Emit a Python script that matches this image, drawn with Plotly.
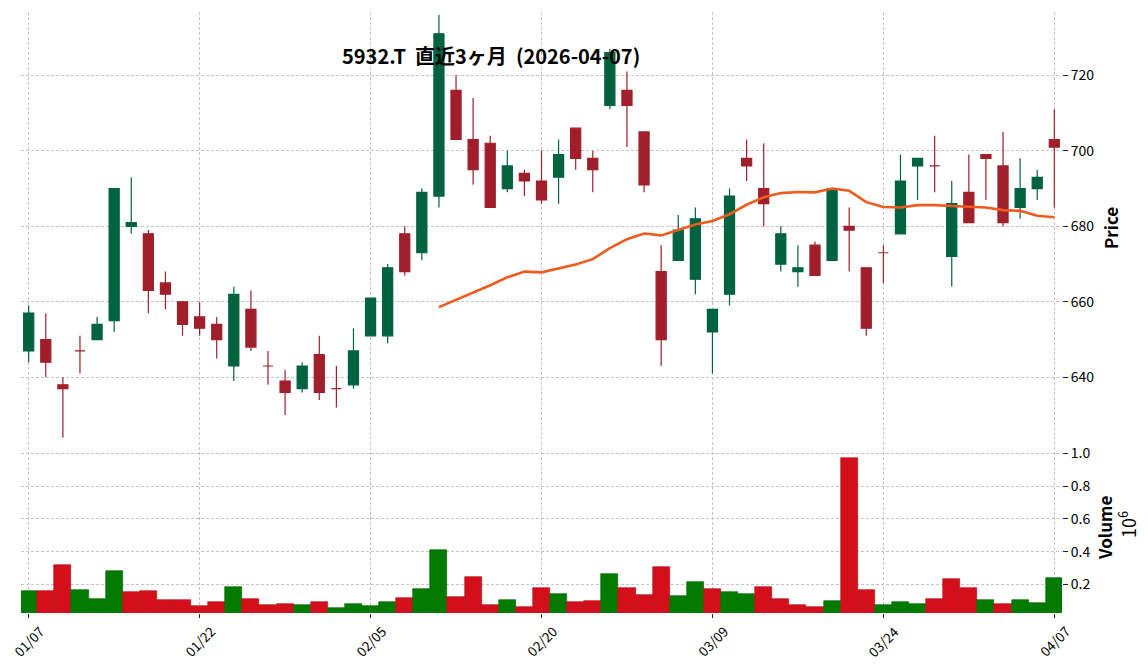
import plotly.graph_objects as go

# ---------------- data ----------------
dates = ["2026-01-07", "2026-01-08", "2026-01-09", "2026-01-13", "2026-01-14", "2026-01-15", "2026-01-16",
         "2026-01-19", "2026-01-20", "2026-01-21", "2026-01-22", "2026-01-23", "2026-01-26", "2026-01-27",
         "2026-01-28", "2026-01-29", "2026-01-30", "2026-02-02", "2026-02-03", "2026-02-04", "2026-02-05",
         "2026-02-06", "2026-02-09", "2026-02-10", "2026-02-12", "2026-02-13", "2026-02-16", "2026-02-17",
         "2026-02-18", "2026-02-19", "2026-02-20", "2026-02-24", "2026-02-25", "2026-02-26", "2026-02-27",
         "2026-03-02", "2026-03-03", "2026-03-04", "2026-03-05", "2026-03-06", "2026-03-09", "2026-03-10",
         "2026-03-11", "2026-03-12", "2026-03-13", "2026-03-16", "2026-03-17", "2026-03-18", "2026-03-19",
         "2026-03-23", "2026-03-24", "2026-03-25", "2026-03-26", "2026-03-27", "2026-03-30", "2026-03-31",
         "2026-04-01", "2026-04-02", "2026-04-03", "2026-04-06", "2026-04-07"]

opens = [647, 650, 638, 647, 650, 655, 680, 678, 665, 660, 656, 654, 643, 658, 643, 639, 637, 646, 637, 638,
         651, 651, 678, 673, 688, 716, 703, 702, 690, 694, 692, 693, 706, 698, 712, 716, 705, 668, 671, 666,
         652, 662, 698, 690, 670, 668, 675, 671, 680, 669, 673, 678, 696, 696, 672, 689, 699, 696, 685, 690,
         703]
highs = [659, 657, 640, 651, 656, 690, 693, 679, 668, 660, 660, 656, 664, 663, 647, 642, 644, 651, 643, 653,
         661, 670, 680, 690, 736, 720, 714, 704, 700, 695, 700, 703, 706, 700, 727, 721, 705, 675, 683, 685,
         658, 690, 703, 702, 680, 675, 676, 690, 685, 669, 675, 699, 698, 704, 692, 699, 699, 705, 698, 695,
         711]
lows = [644, 640, 624, 641, 650, 652, 678, 657, 658, 651, 651, 645, 639, 647, 638, 630, 636, 634, 632, 637,
        651, 649, 667, 671, 685, 703, 691, 685, 689, 688, 686, 686, 695, 689, 711, 701, 689, 643, 671, 662,
        641, 659, 692, 680, 668, 664, 667, 671, 668, 651, 665, 678, 687, 689, 664, 681, 687, 680, 682, 687,
        685]
closes = [657, 644, 637, 647, 654, 690, 681, 663, 662, 654, 653, 650, 662, 648, 643, 636, 643, 636, 637, 647,
          661, 669, 668, 689, 731, 703, 695, 685, 696, 692, 687, 699, 698, 695, 726, 712, 691, 650, 679, 682,
          658, 688, 696, 686, 678, 669, 667, 690, 679, 653, 673, 692, 698, 696, 686, 681, 698, 681, 690, 693,
          701]
volumes = [160000, 160000, 317000, 166000, 111000, 281000, 154000, 160000, 105000, 105000, 69000, 93000,
           184000, 111000, 75000, 81000, 75000, 93000, 57000, 81000, 69000, 93000, 117000, 172000, 408000,
           123000, 244000, 75000, 105000, 63000, 178000, 141000, 93000, 99000, 263000, 178000, 135000, 305000,
           129000, 214000, 172000, 154000, 141000, 184000, 111000, 75000, 63000, 99000, 972000, 166000, 75000,
           93000, 81000, 111000, 232000, 178000, 105000, 81000, 105000, 87000, 238000]
# 25-day moving average as drawn (starts on the 25th session)
ma25 = [658.6, 660.5, 662.4, 664.4, 666.5, 668.0, 667.8, 668.8, 669.9, 671.3, 674.2, 676.6, 678.1, 677.6,
        679.0, 680.5, 681.4, 683.2, 685.7, 687.7, 688.8, 689.1, 689.0, 690.0, 689.4, 686.4, 685.1, 685.0,
        685.6, 685.6, 685.4, 685.1, 685.0, 684.3, 684.1, 682.8, 682.4]
title_text = "5932.T\u00a0\u00a0直近3ヶ月\u00a0\u00a0(2026-04-07)"
price_ticks = [640, 660, 680, 700, 720]
volume_ticks = [200000, 400000, 600000, 800000, 1000000]
volume_ticktext = ["0.2", "0.4", "0.6", "0.8", "1.0"]

# ---------------- styling ----------------
UP = "#006340"
DOWN = "#a01f2a"
VUP = "#007a00"
VDOWN = "#d40f1c"
MA_COLOR = "#f15a1d"
GRID = "#c4c4c4"
FONT = "Noto Sans CJK JP"

# the page body has an 8px default margin; the figure is sized so the plot area
# lands at page pixels x 21..1062, y 12..613
PAGE_OFF = 8
FIG_W, FIG_H = 1148 - PAGE_OFF, 670 - PAGE_OFF
PLOT_L, PLOT_R, PLOT_T, PLOT_B = 21, 1062, 12, 613
PLOT_H = PLOT_B - PLOT_T
PLOT_W = PLOT_R - PLOT_L


def py(page_y):
    return (PLOT_B - page_y) / PLOT_H


def px(page_x):
    return (page_x - PLOT_L) / PLOT_W


n = len(dates)
xs = list(range(n))
tick_idx = list(range(0, n, 10))
tick_text = [dates[i][5:7] + "/" + dates[i][8:10] for i in tick_idx]

up_idx = [i for i in xs if closes[i] > opens[i]]
dn_idx = [i for i in xs if closes[i] <= opens[i]]

vol_colors = []
vol_edges = []
for i in xs:
    if i == 0 or closes[i] > closes[i - 1]:
        vol_colors.append(VUP)
        vol_edges.append("#006400")
    else:
        vol_colors.append(VDOWN)
        vol_edges.append("#b00c17")

fig = go.Figure()


def candles(idx, color):
    return go.Candlestick(
        x=[xs[i] for i in idx],
        open=[opens[i] for i in idx], high=[highs[i] for i in idx],
        low=[lows[i] for i in idx], close=[closes[i] for i in idx],
        increasing=dict(line=dict(color=color, width=1.2), fillcolor=color),
        decreasing=dict(line=dict(color=color, width=1.2), fillcolor=color),
        whiskerwidth=0, xaxis="x2", yaxis="y2", showlegend=False, hoverinfo="skip")


fig.add_trace(candles(up_idx, UP))
fig.add_trace(candles(dn_idx, DOWN))

fig.add_trace(go.Scatter(x=xs[n - len(ma25):], y=ma25, mode="lines",
                         line=dict(color=MA_COLOR, width=2.6), xaxis="x2", yaxis="y2",
                         showlegend=False, hoverinfo="skip"))

fig.add_trace(go.Bar(x=xs, y=volumes, width=1.0,
                     marker=dict(color=vol_colors, line=dict(color=vol_edges, width=0.6)),
                     xaxis="x", yaxis="y", showlegend=False, hoverinfo="skip"))

xcommon = dict(range=[-0.45, 60.45], tickvals=tick_idx, showgrid=True, gridcolor=GRID,
               griddash="3px,2px", gridwidth=0.8, zeroline=False, showline=False,
               rangeslider=dict(visible=False))
ycommon = dict(side="right", showgrid=True, gridcolor=GRID, griddash="3px,2px", gridwidth=0.8,
               zeroline=False, showline=False, ticks="outside", ticklen=5, tickwidth=1,
               tickcolor="#222222", tickfont=dict(family=FONT, size=14, color="black"))

fig.update_layout(
    width=FIG_W, height=FIG_H,
    margin=dict(l=PLOT_L - PAGE_OFF, r=1148 - PLOT_R, t=PLOT_T - PAGE_OFF, b=670 - PLOT_B),
    paper_bgcolor="white", plot_bgcolor="white",
    font=dict(family=FONT, size=13, color="black"),
    showlegend=False,
    boxgap=0.41, boxgroupgap=0,
    bargap=0,
    xaxis=dict(domain=[0, 1], anchor="y", showticklabels=False, ticks="outside", ticklen=4,
               tickwidth=1, tickcolor="#222222", **xcommon),
    xaxis2=dict(domain=[0, 1], anchor="y2", matches="x", showticklabels=False, ticks="", **xcommon),
    yaxis=dict(domain=[0, py(442)], anchor="x", range=[26000, 1069000],
               tickvals=volume_ticks, ticktext=volume_ticktext, **ycommon),
    yaxis2=dict(domain=[py(439), 1], anchor="x2", range=[623.66, 736.77],
                tickvals=price_ticks, **ycommon),
)

annotations = []
# x tick labels, rotated 45 degrees and centred on each tick
for i, t in zip(tick_idx, tick_text):
    annotations.append(dict(x=i, y=py(641), xref="x", yref="paper", text=t,
                            textangle=-45, showarrow=False, xanchor="center", yanchor="middle",
                            font=dict(family=FONT, size=13.5, color="black")))
# title
annotations.append(dict(x=px(491), y=py(55), xref="paper", yref="paper",
                        text="<b>" + title_text + "</b>", showarrow=False,
                        xanchor="center", yanchor="middle",
                        font=dict(family=FONT, size=20, color="black")))
# axis titles
annotations.append(dict(x=px(1110), y=py(228), xref="paper", yref="paper",
                        text="<b>Price</b>", textangle=-90, showarrow=False,
                        xanchor="center", yanchor="middle",
                        font=dict(family=FONT, size=17, color="black")))
annotations.append(dict(x=px(1104), y=py(528), xref="paper", yref="paper",
                        text="<b>Volume</b>", textangle=-90, showarrow=False,
                        xanchor="center", yanchor="middle",
                        font=dict(family=FONT, size=17, color="black")))
annotations.append(dict(x=px(1127), y=py(525), xref="paper", yref="paper",
                        text="10<sup>6</sup>", textangle=-90, showarrow=False,
                        xanchor="center", yanchor="middle",
                        font=dict(family=FONT, size=18, color="black")))
fig.update_layout(annotations=annotations)

fig.write_html("out.html")
